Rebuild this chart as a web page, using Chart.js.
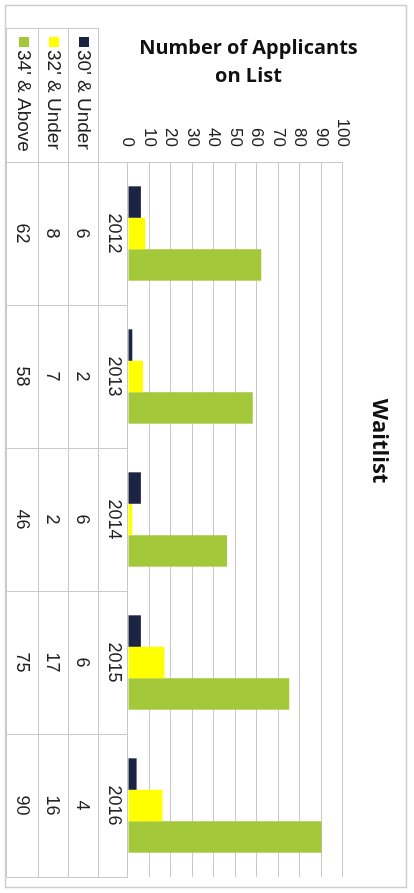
<!DOCTYPE html>
<html>
<head>
<meta charset="utf-8">
<script src="https://cdn.jsdelivr.net/npm/chart.js@4.4.1/dist/chart.umd.min.js"></script>
<style>
  html, body { margin: 0; padding: 0; width: 414px; height: 893px; overflow: hidden; background: #ffffff; }
  #wrap { position: absolute; left: 0; top: 0; width: 893px; height: 414px;
          transform-origin: 0 0; transform: translateX(414px) rotate(90deg); }
  canvas { display: block; }
</style>
</head>
<body>
<div id="wrap"><canvas id="c" width="893" height="414"></canvas></div>
<script>
// ---- data ----
const categories = ['2012', '2013', '2014', '2015', '2016'];
const seriesNames = ["30' & Under", "32' & Under", "34' & Above"];
const under30 = [6, 2, 6, 6, 4];
const under32 = [8, 7, 2, 17, 16];
const above34 = [62, 58, 46, 75, 90];
const yTickValues = [0, 10, 20, 30, 40, 50, 60, 70, 80, 90, 100];
const chartTitle = 'Waitlist';
const yAxisTitle = ['Number of Applicants', 'on List'];

// ---- styles ----
const seriesColors = ['#1b2442', '#ffff00', '#a3c83a'];
const lineColor = '#c9c9c9';
const textColor = '#222222';
const bodyFont = "'Liberation Sans', Arial, sans-serif";
const titleFont = "'Open Sans', 'DejaVu Sans', sans-serif";
const shift = '\u00a0\u00a0\u00a0\u00a0\u00a0';

const seriesValues = [under30, under32, above34];

const frame = {
  id: 'frame',
  beforeDraw(chart) {
    const ctx = chart.ctx;
    ctx.save();
    ctx.fillStyle = '#ffffff';
    ctx.fillRect(0, 0, chart.width, chart.height);
    ctx.strokeStyle = '#cfcfcf';
    ctx.lineWidth = 1.5;
    ctx.strokeRect(5.5, 7.5, chart.width - 11, chart.height - 13);
    ctx.restore();
  }
};

const dataTable = {
  id: 'dataTable',
  afterDraw(chart) {
    const { ctx, chartArea } = chart;
    const xs = chart.scales.x;
    const n = categories.length;
    const step = (xs.getPixelForValue(1) - xs.getPixelForValue(0));
    const bounds = [];
    for (let i = 0; i <= n; i++) bounds.push(xs.getPixelForValue(0) - step / 2 + i * step);
    const rowH = 30;
    const headTop = chartArea.bottom;
    const rowTops = seriesNames.map((_, i) => headTop + 29 + i * rowH);
    const tableBottom = rowTops[rowTops.length - 1] + rowH + 2;
    const labelLeft = 28;

    ctx.save();
    ctx.strokeStyle = lineColor;
    ctx.lineWidth = 1;
    ctx.beginPath();
    rowTops.concat([tableBottom]).forEach(y => {
      ctx.moveTo(labelLeft, Math.round(y) + 0.5);
      ctx.lineTo(bounds[n], Math.round(y) + 0.5);
    });
    ctx.moveTo(labelLeft + 0.5, rowTops[0]);
    ctx.lineTo(labelLeft + 0.5, tableBottom);
    ctx.moveTo(Math.round(chartArea.left) + 0.5, headTop);
    ctx.lineTo(Math.round(chartArea.left) + 0.5, tableBottom);
    for (let i = 1; i <= n; i++) {
      ctx.moveTo(Math.round(bounds[i]) + 0.5, headTop);
      ctx.lineTo(Math.round(bounds[i]) + 0.5, tableBottom);
    }
    ctx.stroke();

    ctx.fillStyle = textColor;
    ctx.font = '18px ' + bodyFont;
    ctx.textAlign = 'center';
    ctx.textBaseline = 'middle';
    seriesValues.forEach((vals, r) => {
      const cy = rowTops[r] + rowH / 2 + 2;
      vals.forEach((v, i) => {
        ctx.fillText(String(v), xs.getPixelForValue(i), cy);
      });
    });

    ctx.font = '19px ' + bodyFont;
    ctx.textAlign = 'left';
    seriesNames.forEach((name, r) => {
      const cy = rowTops[r] + rowH / 2;
      ctx.fillStyle = seriesColors[r];
      ctx.fillRect(labelLeft + 9, cy - 5, 10, 10);
      ctx.fillStyle = textColor;
      ctx.fillText(name, labelLeft + 22, cy + 1);
    });
    ctx.restore();
  }
};

new Chart(document.getElementById('c'), {
  type: 'bar',
  data: {
    labels: categories,
    datasets: seriesNames.map((name, i) => ({
      label: name,
      data: seriesValues[i],
      backgroundColor: seriesColors[i],
      borderWidth: 0,
      categoryPercentage: 0.66,
      barPercentage: 1.0
    }))
  },
  options: {
    responsive: false,
    devicePixelRatio: 1,
    animation: false,
    layout: { padding: { left: 5, right: 16, top: 7, bottom: 0 } },
    plugins: {
      legend: { display: false },
      tooltip: { enabled: false },
      title: {
        display: true,
        text: chartTitle,
        color: '#111',
        font: { family: titleFont, size: 22, weight: 'bold', lineHeight: 1.2 },
        padding: { top: 15, bottom: 22.6 }
      }
    },
    scales: {
      x: {
        type: 'category',
        grid: { display: false, drawTicks: false },
        border: { display: true, color: lineColor, width: 1 },
        ticks: { color: textColor, font: { size: 18, family: bodyFont }, padding: 3, maxRotation: 0, autoSkip: false },
        afterFit(scale) { scale.height = 128; }
      },
      y: {
        min: 0,
        max: 100,
        afterBuildTicks(scale) { scale.ticks = yTickValues.map(v => ({ value: v })); },
        grid: { color: lineColor, lineWidth: 1, drawTicks: false },
        border: { display: true, color: lineColor, width: 1 },
        ticks: { color: textColor, font: { size: 17, family: bodyFont }, padding: 15, autoSkip: false, stepSize: 10 },
        title: {
          display: true,
          text: yAxisTitle.map(t => shift + t),
          color: '#111',
          font: { family: titleFont, size: 20, weight: 'bold', lineHeight: 1.4 },
          padding: { top: 29, bottom: 0 }
        },
        afterFit(scale) { scale.width = 157; }
      }
    }
  },
  plugins: [frame, dataTable]
});
</script>
</body>
</html>
